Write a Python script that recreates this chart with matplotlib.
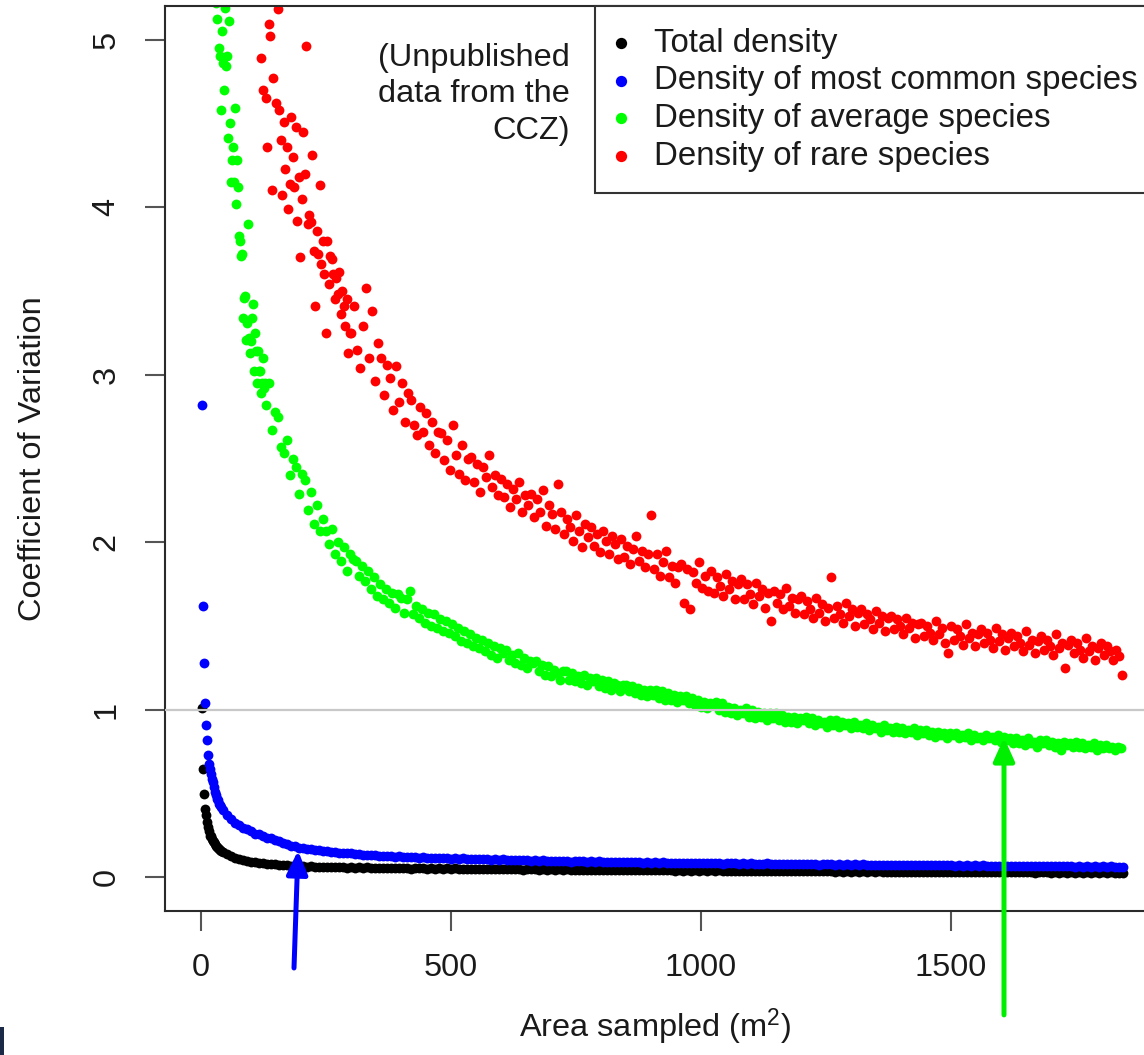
import numpy as np
import matplotlib
matplotlib.use("Agg")
import matplotlib.pyplot as plt
from matplotlib.patches import Rectangle

plt.rcParams["font.family"] = ["Liberation Sans", "DejaVu Sans"]
plt.rcParams["mathtext.fontset"] = "custom"
plt.rcParams["mathtext.rm"] = "Liberation Sans"
plt.rcParams["mathtext.it"] = "Liberation Sans:italic"

# ---------------- data ----------------
SERIES_LABELS = ["Total density", "Density of most common species",
                 "Density of average species", "Density of rare species"]
SERIES_COLORS = ["#000000", "#0000ff", "#00ff00", "#ff0000"]
X_TICKS = [0, 500, 1000, 1500]
Y_TICKS = [0, 1, 2, 3, 4, 5]
X_LABEL = "Area sampled (m$^2$)"
Y_LABEL = "Coefficient of Variation"
NOTE = "(Unpublished\ndata from the\nCCZ)"
REFERENCE_CV = 1.0

# area grids (first area sampled, increment) for each segment
TOTAL_HEAD_GRID = (2, 2)
TOTAL_HEAD = [1.01, 0.65, 0.50, 0.41, 0.37, 0.33, 0.30, 0.28, 0.25, 0.245,
              0.232, 0.22, 0.21, 0.20, 0.19, 0.182, 0.175, 0.168, 0.162, 0.157]
TOTAL_TAIL_GRID = (44, 8)
TOTAL_TAIL = [
    0.152, 0.138, 0.129, 0.118, 0.113, 0.104, 0.101, 0.095, 0.093, 0.089,
    0.087, 0.082, 0.082, 0.078, 0.077, 0.073, 0.073, 0.069, 0.069, 0.066,
    0.067, 0.064, 0.066, 0.063, 0.065, 0.062, 0.064, 0.061, 0.063, 0.061,
    0.062, 0.059, 0.061, 0.058, 0.060, 0.057, 0.060, 0.057, 0.059, 0.056,
    0.058, 0.055, 0.058, 0.054, 0.057, 0.055, 0.056, 0.053, 0.056, 0.054,
    0.056, 0.053, 0.055, 0.052, 0.055, 0.052, 0.054, 0.051, 0.054, 0.052,
    0.053, 0.050, 0.053, 0.049, 0.052, 0.050, 0.052, 0.049, 0.051, 0.049,
    0.051, 0.048, 0.051, 0.048, 0.050, 0.047, 0.050, 0.048, 0.049, 0.047,
    0.049, 0.046, 0.049, 0.046, 0.048, 0.045, 0.048, 0.046, 0.047, 0.045,
    0.047, 0.045, 0.047, 0.044, 0.046, 0.044, 0.046, 0.043, 0.045, 0.043,
    0.046, 0.043, 0.045, 0.042, 0.045, 0.043, 0.044, 0.042, 0.044, 0.042,
    0.044, 0.042, 0.043, 0.041, 0.043, 0.041, 0.043, 0.040, 0.042, 0.040,
    0.043, 0.040, 0.042, 0.040, 0.042, 0.039, 0.041, 0.039, 0.041, 0.039,
    0.041, 0.039, 0.040, 0.038, 0.040, 0.038, 0.040, 0.037, 0.039, 0.038,
    0.039, 0.037, 0.039, 0.036, 0.038, 0.036, 0.038, 0.036, 0.037, 0.036,
    0.038, 0.036, 0.037, 0.035, 0.037, 0.035, 0.036, 0.035, 0.036, 0.034,
    0.037, 0.034, 0.036, 0.034, 0.036, 0.033, 0.035, 0.034, 0.035, 0.033,
    0.035, 0.033, 0.035, 0.032, 0.034, 0.033, 0.034, 0.032, 0.034, 0.032,
    0.034, 0.032, 0.034, 0.031, 0.033, 0.032, 0.033, 0.031, 0.033, 0.031,
    0.033, 0.031, 0.033, 0.030, 0.032, 0.031, 0.032, 0.030, 0.032, 0.030,
    0.032, 0.030, 0.032, 0.029, 0.031, 0.030, 0.031, 0.029, 0.031, 0.029,
    0.031, 0.029, 0.031, 0.028, 0.030, 0.029, 0.030, 0.028, 0.030, 0.028,
    0.030, 0.028, 0.030, 0.027, 0.029, 0.028]

COMMON_HEAD_GRID = (2, 2)
COMMON_HEAD = [2.82, 1.62, 1.28, 1.04, 0.91, 0.82, 0.73, 0.68, 0.65, 0.62,
               0.59, 0.57, 0.54, 0.51, 0.49, 0.47, 0.46, 0.44, 0.43, 0.42]
COMMON_TAIL_GRID = (44, 8)
COMMON_TAIL = [
    0.405, 0.372, 0.348, 0.326, 0.312, 0.298, 0.287, 0.278, 0.262, 0.257,
    0.249, 0.238, 0.233, 0.222, 0.216, 0.203, 0.199, 0.188, 0.186, 0.178,
    0.177, 0.170, 0.169, 0.162, 0.161, 0.156, 0.157, 0.151, 0.152, 0.147,
    0.148, 0.144, 0.144, 0.139, 0.140, 0.136, 0.137, 0.133, 0.134, 0.130,
    0.131, 0.128, 0.129, 0.125, 0.126, 0.123, 0.124, 0.121, 0.122, 0.119,
    0.120, 0.117, 0.119, 0.115, 0.117, 0.114, 0.116, 0.113, 0.115, 0.112,
    0.114, 0.111, 0.113, 0.109, 0.112, 0.108, 0.111, 0.107, 0.110, 0.106,
    0.108, 0.105, 0.107, 0.103, 0.106, 0.102, 0.105, 0.101, 0.104, 0.100,
    0.102, 0.099, 0.101, 0.097, 0.100, 0.096, 0.099, 0.095, 0.098, 0.096,
    0.098, 0.095, 0.097, 0.093, 0.096, 0.092, 0.095, 0.093, 0.094, 0.092,
    0.094, 0.091, 0.093, 0.090, 0.092, 0.089, 0.092, 0.089, 0.091, 0.088,
    0.090, 0.088, 0.089, 0.086, 0.088, 0.085, 0.088, 0.086, 0.087, 0.085,
    0.088, 0.085, 0.087, 0.084, 0.086, 0.083, 0.086, 0.084, 0.085, 0.083,
    0.085, 0.083, 0.084, 0.081, 0.083, 0.082, 0.084, 0.081, 0.082, 0.080,
    0.082, 0.080, 0.081, 0.079, 0.081, 0.078, 0.080, 0.079, 0.080, 0.077,
    0.080, 0.078, 0.079, 0.077, 0.079, 0.076, 0.078, 0.077, 0.078, 0.076,
    0.078, 0.076, 0.077, 0.075, 0.077, 0.074, 0.076, 0.075, 0.076, 0.074,
    0.076, 0.074, 0.075, 0.073, 0.075, 0.072, 0.074, 0.073, 0.074, 0.072,
    0.074, 0.072, 0.073, 0.071, 0.073, 0.070, 0.072, 0.071, 0.072, 0.070,
    0.072, 0.070, 0.071, 0.069, 0.071, 0.068, 0.070, 0.069, 0.070, 0.068,
    0.070, 0.068, 0.069, 0.067, 0.069, 0.066, 0.068, 0.067, 0.068, 0.066,
    0.068, 0.066, 0.067, 0.065, 0.067, 0.065, 0.066, 0.065, 0.067, 0.064,
    0.066, 0.065, 0.066, 0.064, 0.065, 0.064]

AVERAGE_HEAD_GRID = (30, 2)
AVERAGE_HEAD = [
    5.22, 5.12, 5.30, 4.95, 4.90, 4.58, 5.05, 4.86, 4.70, 5.19,
    4.84, 4.90, 4.41, 5.11, 4.50, 4.15, 4.28, 4.36, 4.15, 4.59,
    4.02, 4.28, 4.12, 3.83, 3.80, 3.71, 3.72, 3.34, 3.46, 3.47,
    3.21, 3.31, 3.90, 3.22, 3.13, 3.20, 3.34, 3.42, 3.02, 3.25,
    3.14, 2.95, 3.14, 3.02, 3.02, 2.89, 2.95, 3.10, 2.92, 2.95]
AVERAGE_TAIL_GRID = (130, 6)
AVERAGE_TAIL = [
    2.82, 2.95, 2.67, 2.78, 2.75, 2.57, 2.53, 2.61, 2.40, 2.50,
    2.45, 2.29, 2.41, 2.37, 2.19, 2.30, 2.11, 2.22, 2.07, 2.14,
    2.07, 1.99, 2.08, 1.93, 2.00, 1.89, 1.97, 1.83, 1.93, 1.90,
    1.89, 1.80, 1.86, 1.77, 1.83, 1.72, 1.79, 1.68, 1.75, 1.66,
    1.72, 1.64, 1.70, 1.61, 1.69, 1.67, 1.58, 1.66, 1.71, 1.57,
    1.62, 1.55, 1.60, 1.52, 1.58, 1.50, 1.57, 1.49, 1.54, 1.47,
    1.53, 1.46, 1.51, 1.44, 1.49, 1.41, 1.47, 1.40, 1.45, 1.38,
    1.43, 1.37, 1.42, 1.35, 1.40, 1.33, 1.38, 1.31, 1.37, 1.34,
    1.36, 1.30, 1.33, 1.28, 1.34, 1.27, 1.31, 1.25, 1.29, 1.28,
    1.29, 1.23, 1.27, 1.21, 1.26, 1.20, 1.24, 1.22, 1.18, 1.23,
    1.23, 1.18, 1.22, 1.17, 1.20, 1.16, 1.21, 1.15, 1.19, 1.17,
    1.19, 1.14, 1.18, 1.13, 1.17, 1.12, 1.16, 1.15, 1.11, 1.15,
    1.15, 1.11, 1.14, 1.10, 1.13, 1.09, 1.12, 1.08, 1.12, 1.09,
    1.12, 1.07, 1.11, 1.06, 1.10, 1.06, 1.09, 1.05, 1.08, 1.06,
    1.08, 1.04, 1.07, 1.03, 1.06, 1.02, 1.05, 1.01, 1.04, 1.03,
    1.05, 1.00, 1.04, 0.99, 1.02, 0.98, 1.01, 0.97, 1.00, 0.98,
    1.01, 0.96, 1.00, 0.95, 0.99, 0.96, 0.98, 0.94, 0.98, 0.95,
    0.98, 0.94, 0.97, 0.93, 0.96, 0.93, 0.96, 0.92, 0.95, 0.94,
    0.96, 0.92, 0.95, 0.91, 0.94, 0.92, 0.93, 0.90, 0.94, 0.91,
    0.94, 0.90, 0.93, 0.91, 0.92, 0.89, 0.93, 0.90, 0.91, 0.89,
    0.92, 0.88, 0.91, 0.89, 0.90, 0.87, 0.91, 0.88, 0.89, 0.87,
    0.90, 0.87, 0.89, 0.86, 0.88, 0.87, 0.89, 0.85, 0.88, 0.86,
    0.88, 0.85, 0.87, 0.84, 0.87, 0.85, 0.86, 0.83, 0.86, 0.85,
    0.86, 0.83, 0.85, 0.84, 0.86, 0.82, 0.85, 0.83, 0.84, 0.82,
    0.85, 0.83, 0.84, 0.82, 0.85, 0.81, 0.84, 0.82, 0.83, 0.80,
    0.83, 0.80, 0.82, 0.79, 0.83, 0.80, 0.81, 0.78, 0.82, 0.80,
    0.82, 0.79, 0.81, 0.78, 0.80, 0.76, 0.81, 0.79, 0.80, 0.78,
    0.81, 0.78, 0.80, 0.77, 0.79, 0.78, 0.80, 0.76, 0.79, 0.77,
    0.79, 0.77, 0.78, 0.76, 0.78, 0.77]

RARE_HEAD_GRID = (120, 3)
RARE_HEAD = [
    4.89, 4.70, 5.25, 4.65, 4.36, 5.09, 5.02, 4.10, 4.77, 5.40,
    4.62, 5.18, 4.58, 4.40, 4.07, 4.51, 4.23, 4.36, 3.99, 4.14,
    4.54, 4.30, 4.12, 4.48, 3.92, 4.18, 3.70, 4.05, 4.45, 4.20,
    4.96, 3.90, 3.95, 3.91, 4.31, 3.74, 3.41, 3.86, 3.72, 4.13,
    3.66, 3.80, 3.60, 3.25, 3.80, 3.54, 3.71, 3.69, 3.60, 3.45,
    3.58, 3.48, 3.61, 3.36, 3.50, 3.41, 3.29, 3.45, 3.13, 3.25]
RARE_TAIL_GRID = (300, 6)
RARE_TAIL = [
    3.25, 3.41, 3.15, 3.04, 3.29, 3.52, 3.10, 3.38, 2.96, 3.19,
    3.10, 2.88, 3.06, 2.98, 2.79, 3.05, 2.84, 2.95, 2.72, 2.89,
    2.85, 2.70, 2.64, 2.81, 2.66, 2.77, 2.58, 2.72, 2.53, 2.66,
    2.65, 2.49, 2.61, 2.43, 2.70, 2.52, 2.41, 2.58, 2.37, 2.50,
    2.51, 2.36, 2.47, 2.30, 2.45, 2.39, 2.52, 2.33, 2.40, 2.28,
    2.38, 2.27, 2.35, 2.21, 2.32, 2.26, 2.36, 2.18, 2.28, 2.22,
    2.29, 2.15, 2.26, 2.18, 2.31, 2.10, 2.22, 2.17, 2.08, 2.35,
    2.18, 2.05, 2.14, 2.09, 2.01, 2.16, 2.07, 1.97, 2.11, 2.03,
    2.09, 1.98, 2.05, 1.94, 2.07, 2.01, 1.93, 2.04, 1.99, 1.90,
    2.02, 1.91, 1.98, 1.87, 1.96, 2.04, 1.89, 1.95, 1.85, 1.93,
    2.16, 1.84, 1.93, 1.80, 1.88, 1.95, 1.79, 1.86, 1.76, 1.85,
    1.87, 1.64, 1.84, 1.60, 1.82, 1.76, 1.88, 1.73, 1.80, 1.71,
    1.83, 1.70, 1.79, 1.74, 1.68, 1.81, 1.72, 1.77, 1.66, 1.75,
    1.78, 1.66, 1.75, 1.69, 1.63, 1.76, 1.68, 1.72, 1.61, 1.70,
    1.53, 1.71, 1.64, 1.69, 1.60, 1.73, 1.62, 1.67, 1.58, 1.66,
    1.68, 1.57, 1.65, 1.60, 1.55, 1.67, 1.58, 1.63, 1.53, 1.61,
    1.79, 1.55, 1.62, 1.57, 1.52, 1.64, 1.56, 1.60, 1.50, 1.58,
    1.60, 1.51, 1.57, 1.54, 1.48, 1.59, 1.52, 1.56, 1.47, 1.55,
    1.56, 1.48, 1.54, 1.50, 1.45, 1.55, 1.49, 1.52, 1.43, 1.51,
    1.52, 1.44, 1.50, 1.46, 1.42, 1.53, 1.45, 1.49, 1.40, 1.34,
    1.50, 1.42, 1.48, 1.44, 1.39, 1.51, 1.43, 1.46, 1.38, 1.45,
    1.48, 1.40, 1.46, 1.42, 1.37, 1.49, 1.41, 1.45, 1.36, 1.43,
    1.46, 1.38, 1.44, 1.40, 1.35, 1.47, 1.39, 1.42, 1.34, 1.41,
    1.44, 1.36, 1.42, 1.38, 1.33, 1.45, 1.37, 1.40, 1.25, 1.39,
    1.42, 1.34, 1.40, 1.36, 1.31, 1.43, 1.35, 1.38, 1.30, 1.37,
    1.40, 1.33, 1.38, 1.35, 1.30, 1.36, 1.32, 1.21]

# arrows drawn on the slide: (tail, head) in data units
BLUE_ARROW = ((186, -0.54), (194, 0.16))
GREEN_ARROW = ((1606, -0.82), (1606, 0.835))


def areas(grid, values):
    start, step = grid
    return start + step * np.arange(len(values))


series = [
    (TOTAL_HEAD_GRID, TOTAL_HEAD, TOTAL_TAIL_GRID, TOTAL_TAIL),
    (COMMON_HEAD_GRID, COMMON_HEAD, COMMON_TAIL_GRID, COMMON_TAIL),
    (AVERAGE_HEAD_GRID, AVERAGE_HEAD, AVERAGE_TAIL_GRID, AVERAGE_TAIL),
    (RARE_HEAD_GRID, RARE_HEAD, RARE_TAIL_GRID, RARE_TAIL),
]

# ---------------- figure ----------------
W, H = 1144, 1055
fig = plt.figure(figsize=(W / 100, H / 100), dpi=100)
ax_l, ax_r, ax_t, ax_b = 165, 1160, 6, 911
ax = fig.add_axes([ax_l / W, 1 - ax_b / H, (ax_r - ax_l) / W, (ax_b - ax_t) / H])

FS = 23.4
LEG_FS = 23.8
for (hg, hv, tg, tv), lab, col in zip(series, SERIES_LABELS, SERIES_COLORS):
    x = np.concatenate([areas(hg, hv), areas(tg, tv)])
    y = np.concatenate([hv, tv])
    ax.scatter(x, y, s=50, color=col, linewidths=0, label=lab, zorder=2)

ax.axhline(REFERENCE_CV, color="#c8c8c8", lw=1.6, zorder=3)

ax.set_xlim(-72, 1918)
ax.set_ylim(-0.2, 5.2)
ax.set_xticks(X_TICKS)
ax.set_yticks(Y_TICKS)
ax.tick_params(axis="both", length=14.4, width=1.5, color="#555555",
               labelsize=FS, labelcolor="#1a1a1a")
ax.tick_params(axis="x", pad=16)
ax.tick_params(axis="y", pad=17)
for lbl in ax.get_yticklabels():
    lbl.set_rotation(90)
    lbl.set_verticalalignment("center")
for sp in ax.spines.values():
    sp.set_linewidth(1.5)
    sp.set_color("#2a2a2a")

ax.set_xlabel(X_LABEL, fontsize=FS, color="#1a1a1a")
ax.xaxis.set_label_coords((655 - ax_l) / (ax_r - ax_l), -(1007 - ax_b) / (ax_b - ax_t))
ax.set_ylabel(Y_LABEL, fontsize=FS, color="#1a1a1a")
ax.yaxis.set_label_coords((48 - ax_l) / (ax_r - ax_l), 0.5)

leg = ax.legend(loc="upper right", bbox_to_anchor=(1, 1), borderaxespad=0,
                frameon=True, fancybox=False, fontsize=LEG_FS, borderpad=0.66,
                labelspacing=0.2, handlelength=0.3, handletextpad=0.85,
                markerscale=1.15, scatterpoints=1, framealpha=1)
leg.get_frame().set_edgecolor("#333333")
leg.get_frame().set_linewidth(1.5)
for t in leg.get_texts():
    t.set_color("#1a1a1a")

ax.text((570 - ax_l) / (ax_r - ax_l), (ax_b - 43) / (ax_b - ax_t), NOTE,
        transform=ax.transAxes, ha="right", va="top", fontsize=FS,
        linespacing=1.28, color="#1a1a1a", zorder=5)

arrow_kw = dict(arrowstyle="-|>,head_length=1.0,head_width=0.45",
                mutation_scale=14, lw=3.6, shrinkA=0, shrinkB=0)
ax.annotate("", xy=BLUE_ARROW[1], xytext=BLUE_ARROW[0],
            arrowprops=dict(color="#0000ff", **arrow_kw),
            annotation_clip=False, zorder=6)
ax.annotate("", xy=GREEN_ARROW[1], xytext=GREEN_ARROW[0],
            arrowprops=dict(color="#00ee00", **arrow_kw),
            annotation_clip=False, zorder=6)

fig.add_artist(Rectangle((0, 0), 4 / W, 28 / H, transform=fig.transFigure,
                         color="#1b2a47", lw=0))

fig.savefig("out.png", dpi=100)
